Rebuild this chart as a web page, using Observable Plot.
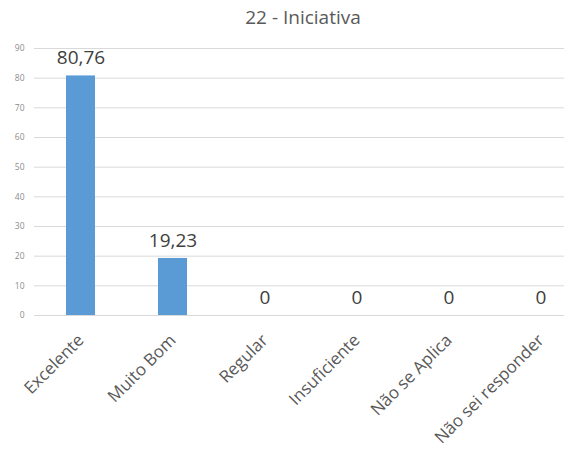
<!DOCTYPE html>
<html>
<head>
<meta charset="utf-8">
<script src="https://cdn.jsdelivr.net/npm/d3@7"></script>
<script src="https://cdn.jsdelivr.net/npm/@observablehq/plot@0.6"></script>
<style>
  body { margin: 0; background: #fff; }
  #wrap { position: relative; width: 564px; height: 462px; overflow: hidden; font-family: "Open Sans", "Noto Sans", sans-serif; }
  #title { position: absolute; top: 4px; left: 0; width: 606px; text-align: center; font-size: 19px; color: #595959; }
</style>
</head>
<body>
<div id="wrap">
  <div id="title">22 - Iniciativa</div>
</div>
<script>
const categories = ["Excelente", "Muito Bom", "Regular", "Insuficiente", "Não se Aplica", "Não sei responder"];
const values = [80.76, 19.23, 0, 0, 0, 0];
const valueLabels = ["80,76", "19,23", "0", "0", "0", "0"];
const yTicks = [0, 10, 20, 30, 40, 50, 60, 70, 80, 90];

const data = categories.map((c, i) => ({cat: c, v: values[i], label: valueLabels[i]}));

const chart = Plot.plot({
  width: 564,
  height: 462,
  marginLeft: 34,
  marginRight: 0,
  marginTop: 48,
  marginBottom: 147,
  style: {fontFamily: "'Open Sans', 'Noto Sans', sans-serif", background: "#fff"},
  x: {domain: categories, range: [34, 586], paddingInner: 0.69, paddingOuter: 0.345, label: null},
  y: {domain: [0, 90], ticks: yTicks, label: null},
  marks: [
    Plot.ruleY(yTicks, {stroke: "#d9d9d9", strokeWidth: 1}),
    Plot.barY(data, {x: "cat", y: "v", fill: "#5b9bd5"}),
    Plot.text(data, {x: "cat", y: "v", text: "label", dy: -18, fontSize: 19, fill: "#404040"}),
    Plot.axisY({ticks: yTicks, tickSize: 0, tickPadding: 10, fontSize: 8.5, color: "#8c8c8c", label: null}),
    Plot.axisX({tickSize: 0, tickRotate: -45, tickPadding: 22, fontSize: 17, color: "#595959", label: null})
  ]
});
document.getElementById("wrap").appendChild(chart);
</script>
</body>
</html>
